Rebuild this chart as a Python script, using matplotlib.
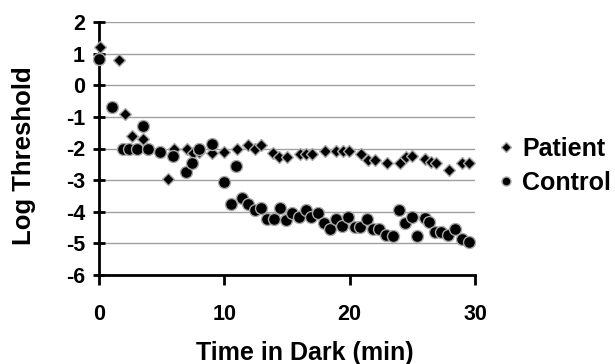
import matplotlib
matplotlib.use("Agg")
import matplotlib.pyplot as plt

plt.rcParams['font.family'] = ['Liberation Sans', 'DejaVu Sans']
plt.rcParams['font.weight'] = 'bold'

patient_x = [0.1, 1.6, 2.1, 2.6, 3.5, 4.9, 5.5, 6.0, 7.0, 7.5, 8.0, 9.0, 10.0, 11.05,
             11.9, 12.43, 12.96, 13.9, 14.4, 15.0, 16.0, 16.5, 17.0, 18.0, 18.9, 19.45,
             19.95, 20.9, 21.45, 22.0, 23.0, 24.0, 24.5, 25.0, 26.0, 26.45, 26.9, 27.95,
             29.0, 29.5]
patient_y = [1.2, 0.8, -0.9, -1.6, -1.7, -2.1, -2.95, -2.03, -2.0, -2.15, -2.1, -2.13, -2.12, -2.02,
             -1.89, -2.03, -1.9, -2.15, -2.27, -2.28, -2.16, -2.16, -2.16, -2.07, -2.08, -2.08,
             -2.07, -2.16, -2.37, -2.37, -2.46, -2.47, -2.27, -2.24, -2.33, -2.43, -2.46, -2.68,
             -2.46, -2.46]

control_x = [0.0, 1.0, 1.9, 2.4, 3.05, 3.5, 3.9, 4.9, 5.9, 6.93, 7.44, 7.97, 8.98, 9.98,
             10.5, 10.97, 11.37, 11.9, 12.43, 12.9, 13.44, 13.97, 14.45, 14.9, 15.43, 15.96,
             16.5, 16.95, 17.47, 17.95, 18.46, 18.88, 19.4, 19.87, 20.4, 20.85, 21.4, 21.9,
             22.35, 22.9, 23.45, 23.9, 24.44, 24.96, 25.4, 26.0, 26.3, 26.8, 27.3, 27.83,
             28.4, 29.0, 29.5]
control_y = [0.83, -0.68, -2.0, -2.0, -2.0, -1.28, -2.0, -2.1, -2.25, -2.74, -2.45, -2.0, -1.87, -3.05,
             -3.77, -2.55, -3.56, -3.77, -3.95, -3.87, -4.24, -4.24, -3.87, -4.27, -4.05, -4.18,
             -3.95, -4.16, -4.05, -4.37, -4.56, -4.24, -4.46, -4.16, -4.48, -4.48, -4.24, -4.56,
             -4.55, -4.74, -4.77, -3.93, -4.37, -4.16, -4.77, -4.21, -4.32, -4.63, -4.63, -4.74,
             -4.53, -4.85, -4.95]

x_ticks = [0, 10, 20, 30]
y_ticks = [2, 1, 0, -1, -2, -3, -4, -5, -6]

W, H = 615, 364
fig = plt.figure(figsize=(W / 100, H / 100), dpi=100)
ax = fig.add_axes([99 / W, 1 - 275 / H, (475 - 99) / W, (275 - 22) / H])

edge = '#a8a8a8'
ax.plot(patient_x, patient_y, linestyle='none', marker='D', markersize=6.6,
        markerfacecolor='black', markeredgecolor=edge, markeredgewidth=1.0,
        clip_on=False, zorder=3, label='Patient')
ax.plot(control_x, control_y, linestyle='none', marker='o', markersize=8.6,
        markerfacecolor='black', markeredgecolor=edge, markeredgewidth=1.0,
        clip_on=False, zorder=3, label='Control')

ax.set_xlim(0, 30)
ax.set_ylim(-6, 2)
ax.set_xticks(x_ticks)
ax.set_yticks(y_ticks)
ax.set_xticklabels([str(v) for v in x_ticks])
ax.set_yticklabels([str(v) for v in y_ticks])

ax.grid(axis='y', color='#a0a0a0', linewidth=1.0)
ax.set_axisbelow(True)
for s in ['top', 'right']:
    ax.spines[s].set_visible(False)
for s in ['left', 'bottom']:
    ax.spines[s].set_linewidth(2.0)
    ax.spines[s].set_color('black')

ax.tick_params(axis='y', direction='inout', length=8, width=2, pad=6, labelsize=15.5)
ax.tick_params(axis='x', direction='out', length=7, width=2, pad=14, labelsize=15.5)
for lab in ax.get_xticklabels() + ax.get_yticklabels():
    lab.set_fontweight('bold')

ax.set_xlabel('Time in Dark (min)', fontsize=18, fontweight='bold', va='center')
ax.xaxis.set_label_coords((304.5 - 99) / 376, (275 - 353) / 253)
ax.set_ylabel('Log Threshold', fontsize=18.5, fontweight='bold', va='center')
ax.yaxis.set_label_coords((24 - 99) / 376, (275 - 156) / 253)

leg = ax.legend(loc='center left', bbox_to_anchor=(1.0 + 21 / 376, (275 - 165.5) / 253),
                frameon=False, fontsize=18, markerscale=0.75,
                handlelength=0.8, handletextpad=0.25, labelspacing=0.4,
                borderaxespad=0.0, borderpad=0.0)
for t in leg.get_texts():
    t.set_fontweight('bold')

fig.savefig('out.png', dpi=100)
